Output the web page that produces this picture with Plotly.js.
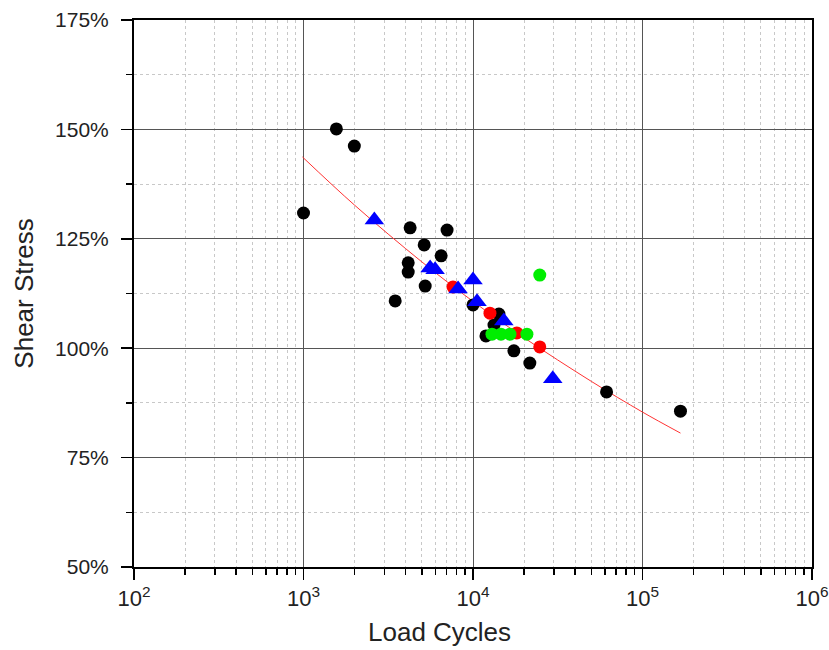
<!DOCTYPE html>
<html>
<head>
<meta charset="utf-8">
<script src="https://cdn.plot.ly/plotly-3.0.1.min.js"></script>
<style>html,body{margin:0;padding:0;background:#fff;}#chart{width:829px;height:650px;}</style>
</head>
<body>
<div id="chart"></div>
<script>
// Black circles
const blackX = [1000, 1563, 1995, 4256, 7031, 5152, 6486, 4147, 4147, 3475, 5223, 10000, 14220, 13300, 11920, 17420, 21640, 61380, 167500];
const blackY = [130.9, 150.1, 146.2, 127.5, 127.0, 123.6, 121.1, 119.5, 117.4, 110.8, 114.2, 109.9, 107.8, 105.3, 102.8, 99.4, 96.6, 90.0, 85.6];
// Blue triangles
const blueX = [2618, 5585, 5975, 8166, 10000, 10560, 15200, 29550];
const blueY = [129.3, 118.3, 117.9, 113.5, 115.6, 110.6, 106.2, 93.0];
// Red circles
const redX = [7620, 12590, 18140, 24770];
const redY = [114.0, 108.0, 103.5, 100.3];
// Green circles
const greenX = [12940, 14620, 16520, 20800, 24770];
const greenY = [103.2, 103.2, 103.2, 103.2, 116.7];
// Red fit curve
const fitX = [986, 2000, 5000, 10000, 20000, 50000, 100000, 167500];
const fitY = [143.7, 132.7, 119.7, 110.7, 102.4, 92.4, 85.4, 80.6];

const majorX = [100, 1000, 10000, 100000, 1000000];
const majorXText = ['10<sup>2</sup>', '10<sup>3</sup>', '10<sup>4</sup>', '10<sup>5</sup>', '10<sup>6</sup>'];
const minorX = [];
for (const d of [100, 1000, 10000, 100000]) for (let k = 2; k <= 9; k++) minorX.push(d * k);
const majorY = [50, 75, 100, 125, 150, 175];
const majorYText = ['50%', '75%', '100%', '125%', '150%', '175%'];
const minorY = [62.5, 87.5, 112.5, 137.5, 162.5];
const xTitle = 'Load Cycles';
const yTitle = 'Shear Stress';

const traces = [
  {x: fitX, y: fitY, mode: 'lines', line: {color: '#ff3333', width: 1, shape: 'spline'}, hoverinfo: 'skip'},
  {x: blackX, y: blackY, mode: 'markers', marker: {color: '#000', size: 13, symbol: 'circle'}},
  {x: redX, y: redY, mode: 'markers', marker: {color: '#ff0000', size: 13, symbol: 'circle'}},
  {x: blueX, y: blueY, mode: 'markers', marker: {color: '#0000ff', size: 17, symbol: 'triangle-up'}},
  {x: greenX, y: greenY, mode: 'markers', marker: {color: '#00ee00', size: 13, symbol: 'circle'}}
];

const fam = 'Liberation Sans, Arial, sans-serif';
const layout = {
  width: 829, height: 650,
  margin: {l: 134, r: 17, t: 20, b: 83},
  paper_bgcolor: '#fff', plot_bgcolor: '#fff',
  showlegend: false,
  font: {family: fam, color: '#222'},
  xaxis: {
    type: 'log', range: [2, 6],
    tickmode: 'array', tickvals: majorX, ticktext: majorXText,
    ticks: 'outside', ticklen: 11, tickwidth: 1.5, tickcolor: '#000',
    tickfont: {size: 22, family: fam, color: '#222'},
    showgrid: true, gridcolor: '#555', gridwidth: 1,
    showline: true, linecolor: '#000', linewidth: 2, mirror: true,
    zeroline: false,
    minor: {tickmode: 'array', tickvals: minorX, ticks: 'outside', ticklen: 6, tickcolor: '#000', tickwidth: 1.5,
            showgrid: true, gridcolor: '#c8c8c8', griddash: 'dot', gridwidth: 1}
  },
  yaxis: {
    range: [50, 175],
    tickmode: 'array', tickvals: majorY, ticktext: majorYText,
    ticks: 'outside', ticklen: 11, tickwidth: 1.5, tickcolor: '#000',
    ticklabelstandoff: 8,
    tickfont: {size: 21, family: fam, color: '#222'},
    showgrid: true, gridcolor: '#555', gridwidth: 1,
    showline: true, linecolor: '#000', linewidth: 2, mirror: true,
    zeroline: false,
    minor: {tickmode: 'array', tickvals: minorY, ticks: 'outside', ticklen: 6, tickcolor: '#000', tickwidth: 1.5,
            showgrid: true, gridcolor: '#c8c8c8', griddash: 'dot', gridwidth: 1},
    title: {text: yTitle, font: {size: 26, family: fam, color: '#222'}, standoff: 14}
  },
  annotations: [
    {text: xTitle, xref: 'paper', yref: 'paper', x: 0.451, y: -0.119, xanchor: 'center', yanchor: 'middle',
     showarrow: false, font: {size: 26, family: fam, color: '#222'}}
  ]
};

Plotly.newPlot('chart', traces, layout, {displayModeBar: false, staticPlot: true});
</script>
</body>
</html>
